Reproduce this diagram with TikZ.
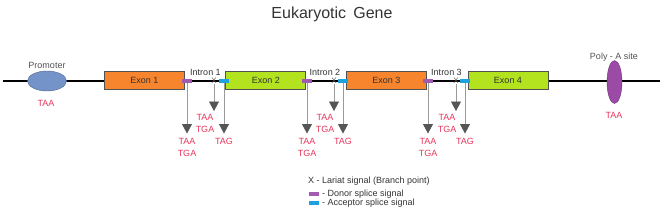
\documentclass[tikz,border=0pt]{standalone}
\usepackage{fontspec}
\setmainfont{Liberation Sans}
\usepackage{tikz}
\usetikzlibrary{arrows.meta,positioning,shapes.geometric}
\definecolor{ExonOrange}{HTML}{F7852D}
\definecolor{ExonLime}{HTML}{B3E21F}
\definecolor{PromoterBlue}{HTML}{7393C9}
\definecolor{PolyPurple}{HTML}{9B4BA6}
\definecolor{DonorPurple}{HTML}{A25BAE}
\definecolor{AcceptorBlue}{HTML}{1DA1E0}
\definecolor{StopRed}{HTML}{E8365D}
\definecolor{TextDark}{HTML}{333333}
\definecolor{ArrowLine}{HTML}{9A9A9A}
\definecolor{ArrowHead}{HTML}{555555}

\tikzset{
    every node/.style={font=\fontsize{9}{12}\selectfont, text=TextDark},
    exonbox/.style={draw=TextDark!85, line width=0.8pt, minimum width=80pt,
        minimum height=17.5pt, inner sep=0pt},
    splicemark/.style={minimum width=10pt, minimum height=3.5pt, inner sep=0pt},
    branchmark/.style={inner sep=0pt, font=\fontsize{8}{8}\selectfont, text=TextDark!80},
    stoplabel/.style={text=StopRed, inner sep=0pt, align=center},
    siteline/.style={draw=ArrowLine, line width=0.8pt,
        -{Triangle[width=10pt,length=9.5pt,color=ArrowHead]}},
    legendtext/.style={inner sep=0pt, anchor=west}
}

\begin{document}
\begin{tikzpicture}[x=1pt, y=-1pt]
    \useasboundingbox (0,0) rectangle (665,218);

    \node[font=\fontsize{16}{19}\selectfont] (title) at (332,14) {Eukaryotic\hspace{0.45em}Gene};

    % gene backbone
    \coordinate (lineleft) at (3,81);
    \coordinate (lineright) at (660,81);
    \draw[line width=2pt] (lineleft) -- (lineright);

    % promoter and poly-A site
    \node[ellipse, draw=PromoterBlue!70!black, fill=PromoterBlue, minimum width=39pt,
        minimum height=20pt, inner sep=0pt] (promoter) at (47,81) {};
    \node[anchor=base, inner sep=0pt, text=TextDark!85] (promoterlabel) at (47,68.3) {Promoter};
    \node[stoplabel] (promoterstop) at (46,103) {TAA};

    \node[ellipse, draw=PolyPurple!70!black, fill=PolyPurple, minimum width=15pt,
        minimum height=43pt, inner sep=0pt] (polya) at (614.5,82) {};
    \node[anchor=base, inner sep=0pt, text=TextDark!85] (polyalabel) at (614,59.2) {Poly - A site};
    \node[stoplabel] (polyastop) at (614,115) {TAA};

    % exons
    \node[exonbox, fill=ExonOrange] (exon1) at (144.5,80.5) {Exon 1};
    \node[exonbox, fill=ExonLime] (exon2) at (265.8,80.5) {Exon 2};
    \node[exonbox, fill=ExonOrange] (exon3) at (386.3,80.5) {Exon 3};
    \node[exonbox, fill=ExonLime] (exon4) at (508,80.5) {Exon 4};

    % introns with splice signals and stop codons
    \foreach \i/\dx/\bx/\ax in {1/187/214/224, 2/307/334/343, 3/428/456/465} {
        \node[splicemark, fill=DonorPurple] (donor\i) at (\dx,81) {};
        \node[splicemark, fill=AcceptorBlue] (acceptor\i) at (\ax,81) {};
        \node[branchmark] (branch\i) at (\bx,81) {X};
        \node[inner sep=0pt] (intron\i) at ({(\dx+\ax)/2},72) {Intron \i};

        \coordinate (donortip\i) at (\dx,133.5);
        \coordinate (branchtip\i) at (\bx,111);
        \coordinate (acceptortip\i) at (\ax,133.5);
        \draw[siteline] (donor\i.south) -- (donortip\i);
        \draw[siteline] (branch\i.south) -- (branchtip\i);
        \draw[siteline] (acceptor\i.south) -- (acceptortip\i);

        \node[stoplabel] (donorstop\i) at (\dx,147) {TAA\\TGA};
        \node[stoplabel] (branchstop\i) at (\bx-9,123.5) {TAA\\TGA};
        \node[stoplabel] (acceptorstop\i) at (\ax,141) {TAG};
    }

    % legend
    \node[legendtext] (lariatkey) at (308,181) {X - Lariat signal (Branch point)};
    \node[splicemark, fill=DonorPurple, minimum height=4pt] (donorkey) at (314,194) {};
    \node[legendtext, right=2.7pt of donorkey] (donorkeytext) {- Donor splice signal};
    \node[splicemark, fill=AcceptorBlue, minimum height=4pt] (acceptorkey) at (314,203.3) {};
    \node[legendtext, right=2.7pt of acceptorkey] (acceptorkeytext) {- Acceptor splice signal};
\end{tikzpicture}
\end{document}
